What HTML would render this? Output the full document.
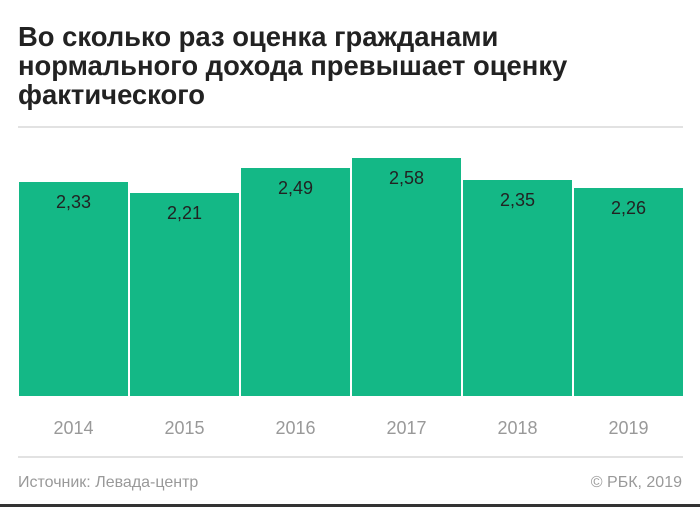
<html><head><style>
body{margin:0;width:700px;height:507px;background:#fff;position:relative;overflow:hidden;font-family:"Liberation Sans",sans-serif}
.t{position:absolute;left:18px;top:22px;font-size:27.4px;font-weight:bold;line-height:29px;color:#222;letter-spacing:0}
.hl{position:absolute;left:18px;width:665px;height:2px;background:#e2e2e2}
.b{position:absolute;background:#14b886;bottom:111px;width:109px}
.b span{position:absolute;top:10px;width:100%;text-align:center;font-size:18px;color:#222}
.y{position:absolute;top:418px;width:109px;text-align:center;font-size:18px;color:#999}
.s{position:absolute;top:474px;font-size:16px;color:#999}
</style></head><body>
<div class="t">Во сколько раз оценка гражданами<br>нормального дохода превышает оценку<br>фактического</div>
<div class="hl" style="top:126px"></div>
<div class="b" style="left:19px;top:182px"><span>2,33</span></div>
<div class="b" style="left:130px;top:193px"><span>2,21</span></div>
<div class="b" style="left:241px;top:168px"><span>2,49</span></div>
<div class="b" style="left:352px;top:158px"><span>2,58</span></div>
<div class="b" style="left:463px;top:180px"><span>2,35</span></div>
<div class="b" style="left:574px;top:188px"><span>2,26</span></div>
<div class="y" style="left:19px">2014</div>
<div class="y" style="left:130px">2015</div>
<div class="y" style="left:241px">2016</div>
<div class="y" style="left:352px">2017</div>
<div class="y" style="left:463px">2018</div>
<div class="y" style="left:574px">2019</div>
<div class="hl" style="top:456px"></div>
<div class="s" style="left:18px">Источник: Левада-центр</div>
<div class="s" style="right:18px">© РБК, 2019</div>
<div style="position:absolute;left:0;right:0;top:504px;height:3px;background:#333"></div>
</body></html>
